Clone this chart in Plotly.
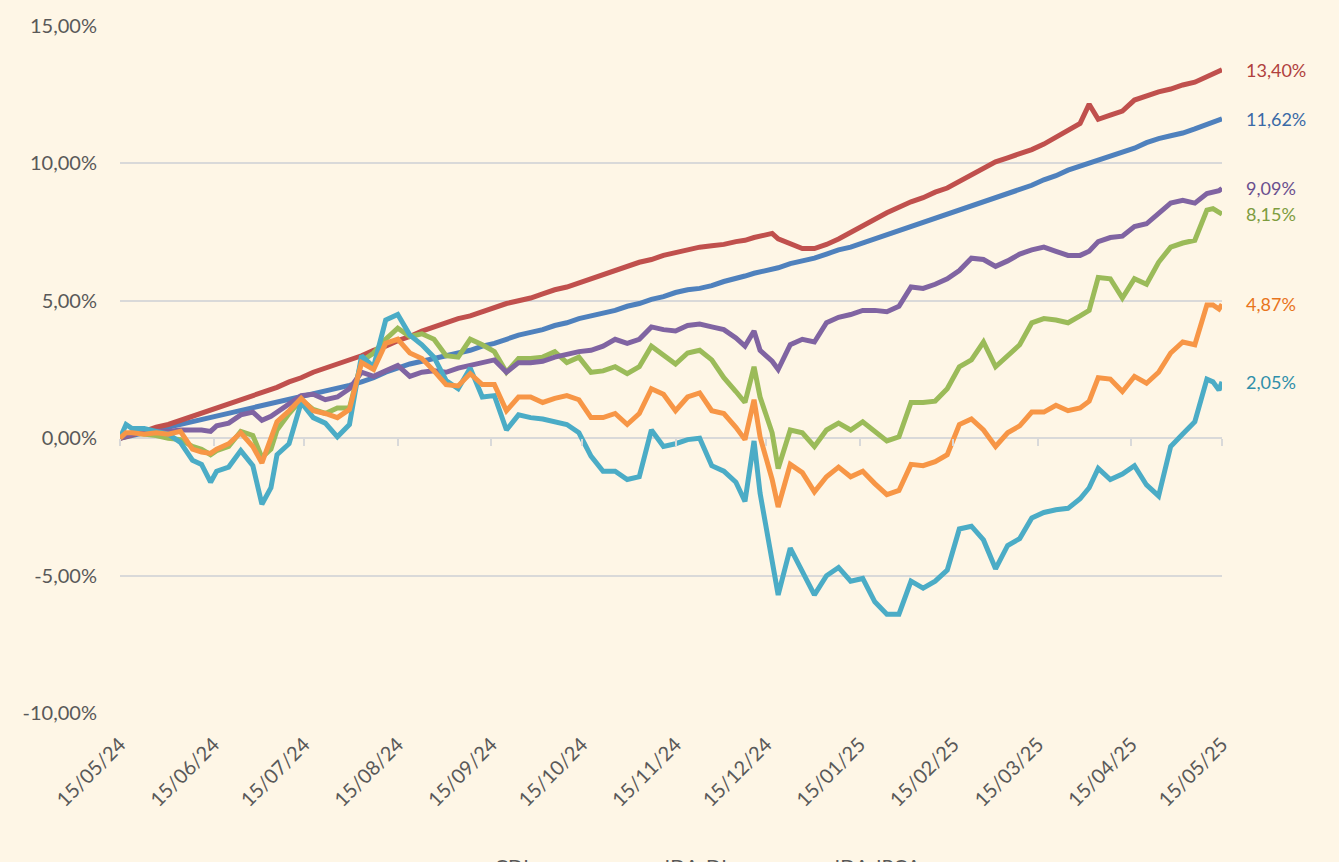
import pandas as pd
import plotly.graph_objects as go

# ---------------- data ----------------
start_date = "2024-05-15"
day_offsets = [0, 2, 4, 8, 12, 16, 20, 24, 27, 30,
               32, 36, 40, 44, 47, 50, 52, 56, 60, 64,
               68, 72, 76, 80, 84, 88, 92, 96, 100, 104,
               108, 112, 116, 120, 124, 128, 132, 136, 140, 144,
               148, 152, 156, 160, 164, 168, 172, 176, 180, 184,
               188, 192, 196, 200, 204, 207, 210, 212, 216, 218,
               222, 226, 230, 234, 238, 242, 246, 250, 254, 258,
               262, 266, 270, 274, 278, 282, 286, 290, 294, 298,
               302, 306, 310, 314, 318, 321, 324, 328, 332, 336,
               340, 344, 348, 352, 356, 360, 362, 364, 365]

cdi = [0.00, 0.05, 0.10, 0.20, 0.30, 0.40, 0.50, 0.60, 0.67, 0.75,
       0.80, 0.90, 1.00, 1.10, 1.18, 1.25, 1.30, 1.40, 1.50, 1.60,
       1.70, 1.80, 1.92, 2.05, 2.20, 2.40, 2.55, 2.70, 2.80, 2.90,
       3.00, 3.10, 3.20, 3.35, 3.45, 3.60, 3.75, 3.85, 3.95, 4.10,
       4.20, 4.35, 4.45, 4.55, 4.65, 4.80, 4.90, 5.05, 5.15, 5.30,
       5.40, 5.45, 5.55, 5.70, 5.80, 5.90, 6.00, 6.05, 6.15, 6.20,
       6.35, 6.45, 6.55, 6.70, 6.85, 6.95, 7.10, 7.25, 7.40, 7.55,
       7.70, 7.85, 8.00, 8.15, 8.30, 8.45, 8.60, 8.75, 8.90, 9.05,
       9.20, 9.40, 9.55, 9.75, 9.90, 10.00, 10.10, 10.25, 10.40, 10.55,
       10.75, 10.90, 11.00, 11.10, 11.25, 11.40, 11.50, 11.58, 11.62]

ida_di = [0.00, 0.05, 0.12, 0.25, 0.40, 0.50, 0.65, 0.80, 0.90, 1.00,
          1.10, 1.25, 1.40, 1.55, 1.65, 1.75, 1.85, 2.05, 2.20, 2.40,
          2.55, 2.70, 2.85, 3.00, 3.20, 3.35, 3.55, 3.70, 3.90, 4.05,
          4.20, 4.35, 4.45, 4.60, 4.75, 4.90, 5.00, 5.10, 5.25, 5.40,
          5.50, 5.65, 5.80, 5.95, 6.10, 6.25, 6.40, 6.50, 6.65, 6.75,
          6.85, 6.95, 7.00, 7.05, 7.15, 7.20, 7.30, 7.35, 7.45, 7.25,
          7.05, 6.90, 6.90, 7.05, 7.25, 7.50, 7.70, 7.95, 8.20, 8.40,
          8.60, 8.75, 8.95, 9.10, 9.35, 9.60, 9.80, 10.05, 10.20, 10.35,
          10.50, 10.70, 10.95, 11.15, 11.45, 12.15, 11.60, 11.75, 11.90, 12.30,
          12.45, 12.60, 12.70, 12.85, 12.95, 13.15, 13.25, 13.35, 13.40]

ida_ipca = [0.00, 0.15, 0.20, 0.15, 0.10, 0.00, -0.05, -0.30, -0.40, -0.60,
            -0.45, -0.30, 0.25, 0.10, -0.70, -0.40, 0.30, 0.90, 1.40, 1.05,
            0.90, 1.10, 1.10, 2.80, 3.10, 3.60, 4.00, 3.70, 3.80, 3.60,
            3.00, 2.95, 3.60, 3.40, 3.15, 2.40, 2.90, 2.90, 2.95, 3.15,
            2.75, 2.95, 2.40, 2.45, 2.60, 2.35, 2.60, 3.35, 3.00, 2.70,
            3.10, 3.20, 2.85, 2.20, 1.70, 1.30, 2.60, 1.50, 0.20, -1.10,
            0.30, 0.20, -0.30, 0.30, 0.55, 0.30, 0.60, 0.25, -0.10, 0.05,
            1.30, 1.30, 1.35, 1.80, 2.60, 2.85, 3.50, 2.60, 3.00, 3.40,
            4.20, 4.35, 4.30, 4.20, 4.45, 4.65, 5.85, 5.80, 5.10, 5.80,
            5.60, 6.40, 6.95, 7.10, 7.20, 8.30, 8.35, 8.20, 8.15]

ida_geral = [0.00, 0.10, 0.15, 0.20, 0.25, 0.25, 0.30, 0.30, 0.30, 0.25,
             0.45, 0.55, 0.85, 0.95, 0.65, 0.80, 0.95, 1.25, 1.55, 1.60,
             1.40, 1.50, 1.80, 2.40, 2.25, 2.45, 2.65, 2.25, 2.40, 2.45,
             2.40, 2.55, 2.65, 2.75, 2.85, 2.40, 2.75, 2.75, 2.80, 2.95,
             3.05, 3.15, 3.20, 3.35, 3.60, 3.45, 3.60, 4.05, 3.95, 3.90,
             4.10, 4.15, 4.05, 3.95, 3.65, 3.35, 3.90, 3.20, 2.80, 2.50,
             3.40, 3.60, 3.50, 4.20, 4.40, 4.50, 4.65, 4.65, 4.60, 4.80,
             5.50, 5.45, 5.60, 5.80, 6.10, 6.55, 6.50, 6.25, 6.45, 6.70,
             6.85, 6.95, 6.80, 6.65, 6.65, 6.80, 7.15, 7.30, 7.35, 7.70,
             7.80, 8.20, 8.55, 8.65, 8.55, 8.90, 8.95, 9.00, 9.09]

ima_b5 = [0.00, 0.50, 0.35, 0.35, 0.25, 0.15, -0.15, -0.80, -0.95, -1.60,
          -1.20, -1.05, -0.45, -1.00, -2.40, -1.80, -0.60, -0.20, 1.30, 0.75,
          0.55, 0.05, 0.50, 3.00, 2.60, 4.30, 4.50, 3.75, 3.40, 2.95,
          2.10, 1.80, 2.55, 1.50, 1.55, 0.30, 0.85, 0.75, 0.70, 0.60,
          0.50, 0.20, -0.65, -1.20, -1.20, -1.50, -1.40, 0.30, -0.30, -0.20,
          -0.05, 0.00, -1.00, -1.20, -1.60, -2.30, -0.10, -2.00, -4.40, -5.70,
          -4.00, -4.85, -5.70, -5.00, -4.70, -5.20, -5.10, -5.95, -6.40, -6.40,
          -5.20, -5.45, -5.20, -4.80, -3.30, -3.20, -3.70, -4.75, -3.90, -3.65,
          -2.90, -2.70, -2.60, -2.55, -2.20, -1.80, -1.10, -1.50, -1.30, -1.00,
          -1.70, -2.10, -0.30, 0.15, 0.60, 2.15, 2.05, 1.75, 2.05]

ima_b = [0.00, 0.20, 0.20, 0.15, 0.20, 0.15, 0.25, -0.40, -0.50, -0.55,
         -0.40, -0.20, 0.20, -0.30, -0.90, 0.00, 0.60, 1.00, 1.45, 1.00,
         0.90, 0.75, 1.05, 2.75, 2.50, 3.45, 3.60, 3.10, 2.90, 2.45,
         1.95, 1.90, 2.35, 1.95, 1.95, 1.00, 1.50, 1.50, 1.30, 1.45,
         1.55, 1.40, 0.75, 0.75, 0.90, 0.50, 0.90, 1.80, 1.60, 1.00,
         1.50, 1.65, 1.00, 0.90, 0.40, -0.05, 1.40, 0.05, -1.50, -2.50,
         -0.95, -1.25, -1.95, -1.40, -1.05, -1.40, -1.20, -1.65, -2.05, -1.90,
         -0.95, -1.00, -0.85, -0.60, 0.50, 0.70, 0.30, -0.30, 0.20, 0.45,
         0.95, 0.95, 1.20, 1.00, 1.10, 1.35, 2.20, 2.15, 1.70, 2.25,
         2.00, 2.40, 3.10, 3.50, 3.40, 4.85, 4.85, 4.70, 4.87]

series_names = ["CDI", "IDA-DI", "IDA-IPCA", "IDA-Geral", "IMA-B 5+", "IMA-B"]

tick_dates = ["2024-05-15", "2024-06-15", "2024-07-15", "2024-08-15", "2024-09-15",
              "2024-10-15", "2024-11-15", "2024-12-15", "2025-01-15", "2025-02-15",
              "2025-03-15", "2025-04-15", "2025-05-15"]
tick_labels = ["15/05/24", "15/06/24", "15/07/24", "15/08/24", "15/09/24",
               "15/10/24", "15/11/24", "15/12/24", "15/01/25", "15/02/25",
               "15/03/25", "15/04/25", "15/05/25"]

y_ticks = [-10, -5, 0, 5, 10, 15]
y_tick_labels = ["-10,00%", "-5,00%", "0,00%", "5,00%", "10,00%", "15,00%"]

# ---------------- styling ----------------
BG = "#FEF6E6"
GRID = "#D9D9D9"
TXT = "#595959"
FONT = "Lato"
line_colors = ["#4F81BD", "#C0504D", "#9BBB59", "#8064A2", "#4BACC6", "#F79646"]
label_colors = ["#3A6AA6", "#B0403D", "#7D9C3E", "#6A4F8E", "#2F8FAA", "#E8741C"]
legend_ids = ["legend", "legend", "legend", "legend2", "legend2", "legend2"]

dates = pd.Timestamp(start_date) + pd.to_timedelta(day_offsets, unit="D")
all_series = [cdi, ida_di, ida_ipca, ida_geral, ima_b5, ima_b]
for s in all_series:
    assert len(s) == len(day_offsets)

fig = go.Figure()
for name, vals, col, lg in zip(series_names, all_series, line_colors, legend_ids):
    fig.add_trace(go.Scatter(
        x=dates, y=vals, mode="lines", name=name, legend=lg,
        line=dict(color=col, width=5),
    ))

# helper trace so the tick-mark axis at zero is drawn
fig.add_trace(go.Scatter(x=dates, y=[None] * len(dates), xaxis="x2",
                         showlegend=False, hoverinfo="skip"))

# end-of-line value labels
for vals, col in zip(all_series, label_colors):
    fig.add_annotation(
        x=dates[-1], y=vals[-1], xref="x", yref="y",
        text=f"{vals[-1]:.2f}".replace(".", ",") + "%",
        showarrow=False, xanchor="left", yanchor="middle", xshift=22,
        font=dict(family=FONT, size=18, color=col),
    )

y_range = [-10.03, 15.03]
zero_pos = (0 - y_range[0]) / (y_range[1] - y_range[0])
x_range = [tick_dates[0], tick_dates[-1]]

fig.update_layout(
    width=1339, height=862,
    margin=dict(l=120, r=117, t=25, b=148, autoexpand=False),
    paper_bgcolor=BG, plot_bgcolor=BG,
    font=dict(family=FONT, size=20, color=TXT),
    xaxis=dict(
        type="date", range=x_range, tickvals=tick_dates, ticktext=tick_labels,
        tickangle=-45, showgrid=False, zeroline=False, showline=False,
        ticks="", ticklabelstandoff=14, tickfont=dict(size=20, color=TXT),
    ),
    xaxis2=dict(
        type="date", range=x_range, overlaying="x", anchor="free", position=zero_pos,
        side="bottom", tickvals=tick_dates, showticklabels=False, ticks="outside",
        ticklen=7, tickwidth=1.5, tickcolor=GRID, showgrid=False, zeroline=False,
        showline=False,
    ),
    yaxis=dict(
        range=y_range, tickvals=y_ticks, ticktext=y_tick_labels,
        showgrid=True, gridcolor=GRID, gridwidth=1.5, zeroline=False,
        showline=False, ticks="", ticklabelstandoff=22,
        tickfont=dict(size=20, color=TXT),
    ),
    legend=dict(orientation="h", x=0.535, xanchor="center", y=-0.192, yanchor="top",
                bgcolor="rgba(0,0,0,0)", font=dict(size=20, color=TXT),
                entrywidth=125),
    legend2=dict(orientation="h", x=0.535, xanchor="center", y=-0.26, yanchor="top",
                 bgcolor="rgba(0,0,0,0)", font=dict(size=20, color=TXT),
                 entrywidth=125),
    showlegend=True,
)

fig.write_html("out.html", config={"displayModeBar": False},
               post_script="document.body.style.margin='0';document.body.style.overflow='hidden';")
